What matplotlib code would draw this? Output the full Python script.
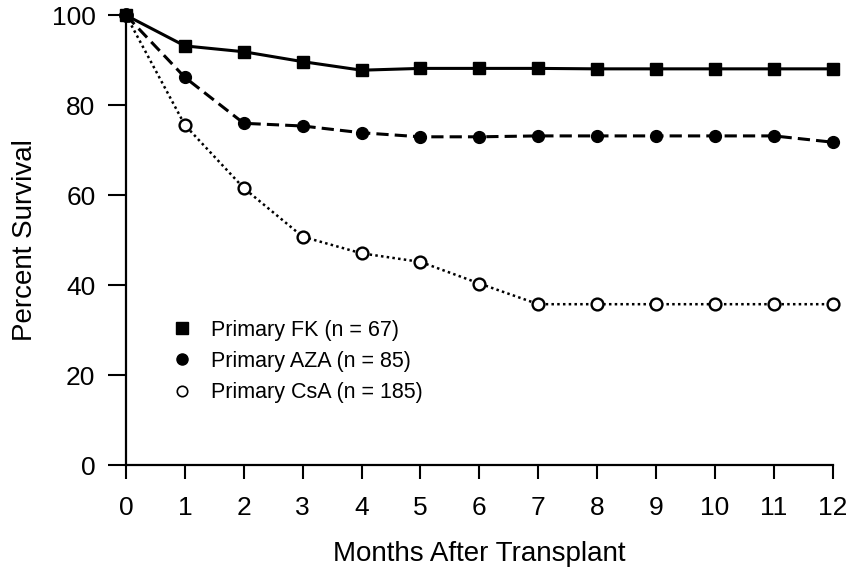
import matplotlib
matplotlib.use('Agg')
import matplotlib.pyplot as plt
from matplotlib.lines import Line2D

plt.rcParams['font.family'] = ['Liberation Sans', 'DejaVu Sans']

# months after transplant
MONTHS = [0, 1, 2, 3, 4, 5, 6, 7, 8, 9, 10, 11, 12]

# percent survival
FK = [100, 93.2, 91.9, 89.7, 87.8, 88.2, 88.2, 88.2, 88.1, 88.1, 88.1, 88.1, 88.1]
AZA = [100, 86.2, 76.0, 75.4, 73.9, 73.0, 73.0, 73.2, 73.2, 73.2, 73.2, 73.2, 71.8]
CSA = [100, 75.6, 61.6, 50.8, 47.1, 45.2, 40.4, 35.8, 35.8, 35.8, 35.8, 35.8, 35.8]

LABELS = ['Primary FK (n = 67)', 'Primary AZA (n = 85)', 'Primary CsA (n = 185)']
Y_TICKS = [0, 20, 40, 60, 80, 100]

fig = plt.figure(figsize=(8.48, 5.71), dpi=100)
ax = fig.add_axes([0.1486, 0.1851, 0.8334, 0.7881])

ax.plot(MONTHS, FK, color='black', lw=2.2, marker='s', ms=8.5, clip_on=False, zorder=3)
ax.plot(MONTHS, AZA, color='black', lw=2.2, dashes=(4, 2), marker='o', ms=8.5,
        clip_on=False, zorder=3)
ax.plot(MONTHS, CSA, color='black', lw=1.8, dashes=(1, 1.3), marker='o', ms=8.5,
        mfc='white', mec='black', mew=1.7, clip_on=False, zorder=3)
# the first point is shared; draw the filled circle on top
ax.plot(MONTHS[:1], AZA[:1], 'o', color='black', ms=9.5, clip_on=False, zorder=4)

ax.set_xlim(0, 12)
ax.set_ylim(0, 100)
ax.set_xticks(MONTHS)
ax.set_yticks(Y_TICKS)
for side in ('top', 'right'):
    ax.spines[side].set_visible(False)
for side in ('left', 'bottom'):
    ax.spines[side].set_linewidth(1.6)
ax.tick_params(axis='y', length=13, width=1.5, labelsize=19, pad=9)
ax.tick_params(axis='x', length=10, width=1.5, labelsize=19, pad=12)

ax.set_xlabel('Months After Transplant', fontsize=20, labelpad=15)
ax.set_ylabel('Percent Survival', fontsize=20, labelpad=10)

handles = [
    Line2D([], [], ls='none', marker='s', color='black', ms=8),
    Line2D([], [], ls='none', marker='o', color='black', ms=8),
    Line2D([], [], ls='none', marker='o', mfc='white', mec='black', mew=1.2, ms=7.5),
]
ax.legend(handles, LABELS, loc='upper left', bbox_to_anchor=(0.052, 0.343),
          frameon=False, fontsize=15.5, handlelength=1.0, handletextpad=0.85,
          labelspacing=0.48, borderaxespad=0)

fig.savefig('out.png', dpi=100)
